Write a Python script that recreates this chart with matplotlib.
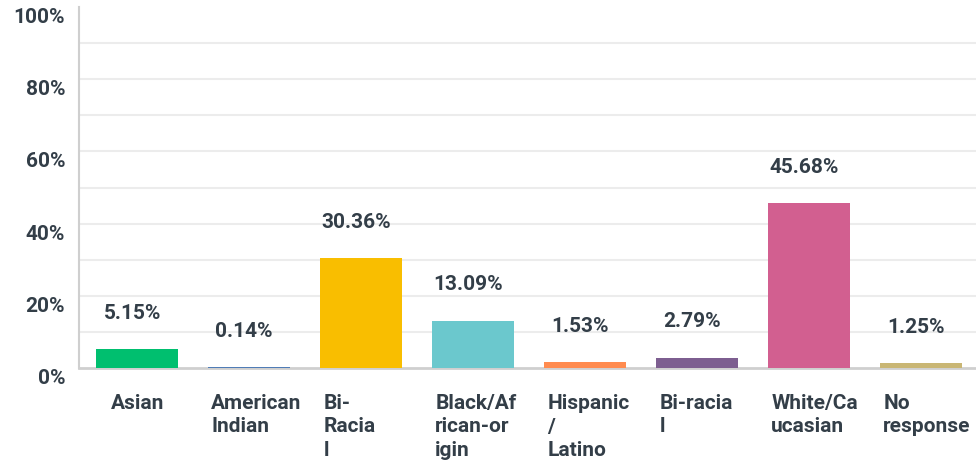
import matplotlib
matplotlib.use("Agg")
import matplotlib.pyplot as plt
import matplotlib.transforms as mtransforms
import numpy as np

# chart data
categories = [
    "Asian",
    "American\nIndian",
    "Bi-\nRacia\nl",
    "Black/Af\nrican-or\nigin",
    "Hispanic\n/\nLatino",
    "Bi-racia\nl",
    "White/Ca\nucasian",
    "No\nresponse",
]
values = [5.15, 0.14, 30.36, 13.09, 1.53, 2.79, 45.68, 1.25]
colors = ["#00bf6f", "#507cb6", "#f9be00", "#6bc8cd", "#ff8b4f", "#7d5e90", "#d25f90", "#c9b674"]
y_ticks = [0, 20, 40, 60, 80, 100]
y_tick_labels = ["0%", "20%", "40%", "60%", "80%", "100%"]

TEXT = "#333e48"
plt.rcParams["font.family"] = ["Roboto", "DejaVu Sans"]

W, H = 976, 463
fig = plt.figure(figsize=(W / 100, H / 100), dpi=100)
ax = fig.add_axes([79 / W, (H - 368) / H, (W - 79) / W, 361 / H])

x = np.arange(len(categories))
bar_w = 0.73
ax.bar(x, values, width=bar_w, color=colors, zorder=3)

ax.set_xlim(-0.52, 7.49)
ax.set_ylim(0, 100)

# light gridlines every 10%
for g in range(10, 100, 10):
    ax.axhline(g, color="#ececec", lw=1.5, zorder=1)

for side in ["top", "right"]:
    ax.spines[side].set_visible(False)
ax.spines["left"].set_color("#cfcfcf")
ax.spines["bottom"].set_color("#cfcfcf")
ax.spines["left"].set_linewidth(1.5)
ax.spines["bottom"].set_linewidth(2)

ax.set_xticks([])
ax.set_yticks(y_ticks)
ax.set_yticklabels(y_tick_labels)
ax.tick_params(axis="y", length=0, pad=10, labelsize=15, labelcolor=TEXT)
for lbl in ax.get_yticklabels():
    lbl.set_fontweight("bold")
    lbl.set_verticalalignment("top")
    lbl.set_transform(lbl.get_transform() + mtransforms.ScaledTranslation(0, -1 / 100, fig.dpi_scale_trans))

# value labels above bars
for i, v in enumerate(values):
    off = mtransforms.offset_copy(ax.transData, fig=fig, x=-5, y=36, units="dots")
    ax.text(i, v, f"{v:.2f}%", transform=off, ha="center", va="center",
            fontsize=15, fontweight="bold", color=TEXT)

# category labels below the axis
for i, lab in enumerate(categories):
    if "\n" in lab:
        xpos, ha = i - bar_w / 2, "left"
        dx = 3
    else:
        xpos, ha = i, "center"
        dx = 0
    off = mtransforms.offset_copy(ax.get_xaxis_transform(), fig=fig, x=dx, y=-26, units="dots")
    ax.text(xpos, 0, lab, transform=off, ha=ha, va="top", fontsize=15,
            fontweight="bold", color=TEXT, linespacing=1.3)

fig.savefig("out.png", dpi=100)
